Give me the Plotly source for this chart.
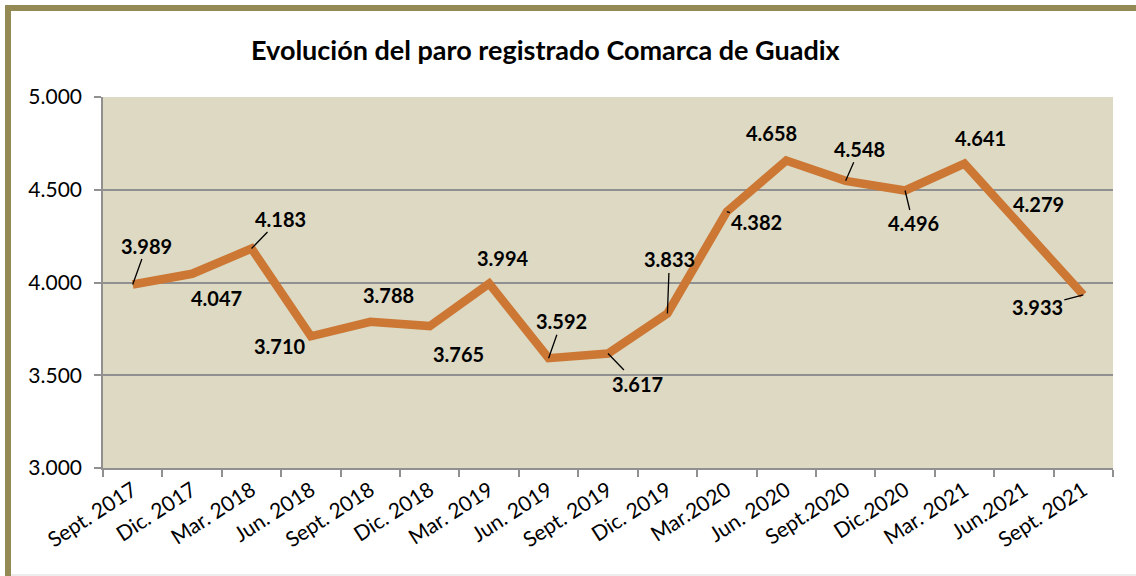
import plotly.graph_objects as go

categories = ["Sept. 2017", "Dic. 2017", "Mar. 2018", "Jun. 2018", "Sept. 2018",
              "Dic. 2018", "Mar. 2019", "Jun. 2019", "Sept. 2019", "Dic. 2019",
              "Mar.2020", "Jun. 2020", "Sept.2020", "Dic.2020", "Mar. 2021",
              "Jun.2021", "Sept. 2021"]
paro = [3989, 4047, 4183, 3710, 3788, 3765, 3994, 3592, 3617, 3833,
        4382, 4658, 4548, 4496, 4641, 4279, 3933]
y_ticks = [3000, 3500, 4000, 4500, 5000]

# label offsets in pixels (style) and whether a leader line is drawn
label_dx = [14, 24, 29, -31, 18, 29, 14, 13, 29, 2, 30, -15, 14, 8, 16, 15, -46]
label_dy = [-39, 24, -30, 10, -27, 28, -26, -37, 30, -54, 10, -27, -32, 33, -26, -27, 12]
leader = [True, False, True, False, False, False, False, True, True, True,
          True, False, True, True, False, False, True]

W, H = 1136, 576
L, R, T, B = 103, 23, 97, 108
pw, ph = W - L - R, H - T - B

def fmt(v):
    return f"{v:,}".replace(",", ".")

fig = go.Figure()
fig.add_trace(go.Scatter(
    x=categories, y=paro, mode="lines",
    line=dict(color="#CC7733", width=8.5, shape="linear"),
    hoverinfo="x+y", showlegend=False,
))

annotations = []
for c, v, dx, dy, ld in zip(categories, paro, label_dx, label_dy, leader):
    annotations.append(dict(
        x=c, y=v, xref="x", yref="y", text=f"<b>{fmt(v)}</b>",
        showarrow=True, ax=dx, ay=dy, arrowhead=0, arrowwidth=1.3,
        arrowcolor="black" if ld else "rgba(0,0,0,0)", standoff=0,
        font=dict(family="Lato", size=20, color="black"),
    ))
annotations.append(dict(
    x=(546 - L) / pw, y=(H - B - 50) / ph, xref="paper", yref="paper",
    text="<b>Evolución del paro registrado Comarca de Guadix</b>",
    showarrow=False, font=dict(family="Lato", size=27, color="black"),
    xanchor="center", yanchor="middle",
))

def px_x(p):
    return (p - L) / pw

def px_y(p):
    return (H - B - p) / ph

shapes = [
    dict(type="rect", xref="paper", yref="paper", x0=px_x(5), x1=px_x(11),
         y0=px_y(576), y1=px_y(5), fillcolor="#948A54", line=dict(width=0), layer="below"),
    dict(type="rect", xref="paper", yref="paper", x0=px_x(5), x1=px_x(1136),
         y0=px_y(11), y1=px_y(5), fillcolor="#948A54", line=dict(width=0), layer="below"),
    dict(type="line", xref="paper", yref="paper", x0=px_x(11), x1=px_x(1136),
         y0=px_y(575), y1=px_y(575), line=dict(color="#D9D9D9", width=1)),
]

fig.update_layout(
    width=W, height=H,
    margin=dict(l=L, r=R, t=T, b=B, pad=0),
    paper_bgcolor="white", plot_bgcolor="#DDD9C3",
    separators=",.",
    font=dict(family="Lato", size=19, color="black"),
    annotations=annotations, shapes=shapes,
    xaxis=dict(
        type="category", tickangle=-33, ticks="outside", ticklen=7,
        tickcolor="#909090", tickwidth=1.5, tickson="boundaries",
        showgrid=False, showline=True, linecolor="#909090", linewidth=1.5,
        tickfont=dict(family="Lato", size=21), range=[-0.5, 16.5],
    ),
    yaxis=dict(
        range=[3000, 5000], tickvals=y_ticks, tickformat=",d",
        ticks="outside", ticklen=7, tickcolor="#909090", tickwidth=1.5,
        showgrid=True, gridcolor="#909090", gridwidth=1.5,
        showline=True, linecolor="#909090", linewidth=1.5, zeroline=False,
        tickfont=dict(family="Lato", size=21), ticklabelstandoff=8,
    ),
)

fig.write_html("out.html", config={"displayModeBar": False},
               post_script="document.body.style.margin='0';")
